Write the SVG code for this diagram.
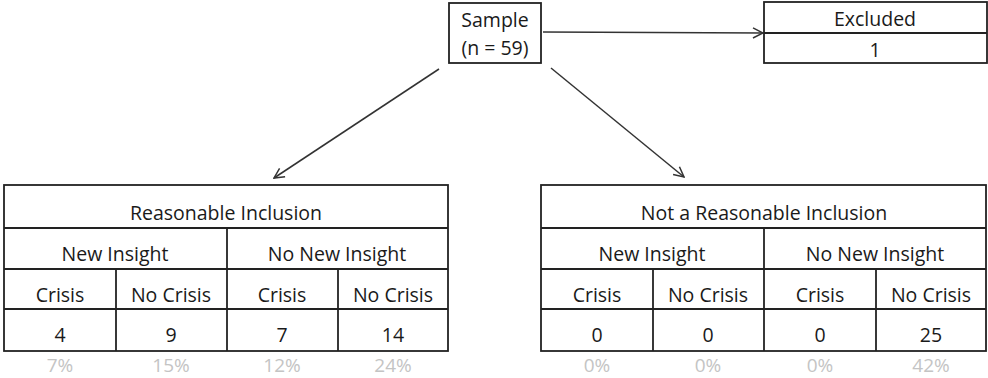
<svg xmlns="http://www.w3.org/2000/svg" width="988" height="378" viewBox="0 0 988 378">
<style>
.box{fill:#fff;stroke:#222;stroke-width:1.8}
.ln{stroke:#222;stroke-width:1.8;fill:none}
text{font-family:"Open Sans","Liberation Sans",sans-serif;font-size:19.5px;fill:#1a1a1a;text-anchor:middle}
.pct{fill:#c4c4c4;font-size:19px}
.arr{stroke:#333;stroke-width:1.5;fill:none;marker-end:url(#ah)}
</style>
<defs>
<marker id="ah" viewBox="0 0 12 12" refX="11" refY="6" markerWidth="12" markerHeight="12" markerUnits="userSpaceOnUse" orient="auto">
<path d="M1,1 L11,6 L1,11" fill="none" stroke="#333" stroke-width="1.5"/>
</marker>
</defs>
<g id="connectors">
<line class="arr" x1="543" y1="32" x2="763" y2="33"/>
<line class="arr" x1="439" y1="69" x2="274" y2="178"/>
<line class="arr" x1="551" y1="68" x2="684" y2="177"/>
</g>
<g id="sample">
<rect class="box" x="449" y="3" width="92" height="60"/>
<text x="495" y="27">Sample</text>
<text x="495" y="55">(n = 59)</text>
</g>
<g id="excluded">
<rect class="box" x="764" y="2" width="223" height="61"/>
<line class="ln" x1="764" y1="33" x2="987" y2="33"/>
<text x="875" y="26">Excluded</text>
<text x="875" y="57">1</text>
</g>
<g id="reasonable">
<rect class="box" x="4" y="185" width="444" height="166"/>
<line class="ln" x1="4" y1="228" x2="448" y2="228"/>
<line class="ln" x1="4" y1="269" x2="448" y2="269"/>
<line class="ln" x1="4" y1="309" x2="448" y2="309"/>
<line class="ln" x1="227" y1="228" x2="227" y2="351"/>
<line class="ln" x1="116" y1="269" x2="116" y2="351"/>
<line class="ln" x1="338" y1="269" x2="338" y2="351"/>
<text x="226" y="220">Reasonable Inclusion</text>
<text x="115" y="261">New Insight</text>
<text x="337" y="261">No New Insight</text>
<text x="60" y="302">Crisis</text>
<text x="171" y="302">No Crisis</text>
<text x="282" y="302">Crisis</text>
<text x="393" y="302">No Crisis</text>
<text x="60" y="342">4</text>
<text x="171" y="342">9</text>
<text x="282" y="342">7</text>
<text x="393" y="342">14</text>
<text class="pct" x="60" y="372">7%</text>
<text class="pct" x="171" y="372">15%</text>
<text class="pct" x="282" y="372">12%</text>
<text class="pct" x="393" y="372">24%</text>
</g>
<g id="not-reasonable">
<rect class="box" x="541" y="185" width="445" height="166"/>
<line class="ln" x1="541" y1="228" x2="986" y2="228"/>
<line class="ln" x1="541" y1="269" x2="986" y2="269"/>
<line class="ln" x1="541" y1="309" x2="986" y2="309"/>
<line class="ln" x1="764" y1="228" x2="764" y2="351"/>
<line class="ln" x1="653" y1="269" x2="653" y2="351"/>
<line class="ln" x1="876" y1="269" x2="876" y2="351"/>
<text x="764" y="220">Not a Reasonable Inclusion</text>
<text x="652" y="261">New Insight</text>
<text x="875" y="261">No New Insight</text>
<text x="597" y="302">Crisis</text>
<text x="708" y="302">No Crisis</text>
<text x="820" y="302">Crisis</text>
<text x="931" y="302">No Crisis</text>
<text x="597" y="342">0</text>
<text x="708" y="342">0</text>
<text x="820" y="342">0</text>
<text x="931" y="342">25</text>
<text class="pct" x="597" y="372">0%</text>
<text class="pct" x="708" y="372">0%</text>
<text class="pct" x="820" y="372">0%</text>
<text class="pct" x="931" y="372">42%</text>
</g>
</svg>
